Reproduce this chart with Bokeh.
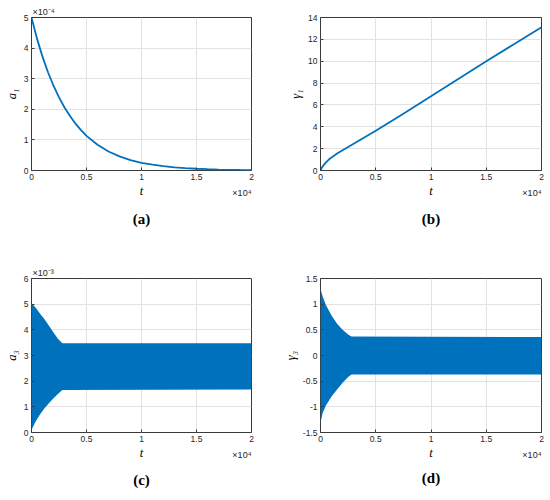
from bokeh.plotting import figure
from bokeh.layouts import row, column
from bokeh.models import Range1d, FixedTicker, Title
from bokeh.embed import file_html
from bokeh.resources import INLINE

# ---------------- data ----------------
t_ticks = [0, 5000, 10000, 15000, 20000]
t_tick_labels = {0: "0", 5000: "0.5", 10000: "1", 15000: "1.5", 20000: "2"}

# (a) a1, in units of 1e-4
t_a1 = [0, 500, 1000, 1500, 2000, 2500, 3000, 3500, 4000, 4500, 5000, 6000, 7000,
        8000, 9000, 10000, 11000, 12000, 13000, 14000, 15000, 16000, 17000, 18000,
        19000, 20000]
a1 = [5.00, 4.31, 3.72, 3.21, 2.77, 2.39, 2.06, 1.78, 1.53, 1.32, 1.13, 0.84, 0.62,
      0.46, 0.34, 0.25, 0.19, 0.14, 0.10, 0.077, 0.057, 0.042, 0.031, 0.023, 0.017,
      0.013]

# (b) gamma1
t_g1 = [0, 100, 250, 500, 750, 1000, 1500, 2000, 2500, 3000, 4000, 5000, 7500,
        10000, 12500, 15000, 17500, 20000]
g1 = [0, 0.22, 0.45, 0.75, 1.0, 1.2, 1.55, 1.85, 2.15, 2.45, 3.05, 3.63, 5.2,
      6.8, 8.4, 10.0, 11.55, 13.1]

# (c) a3 oscillation envelope, in units of 1e-3
t_a3 = [0, 400, 800, 1200, 1600, 2000, 2400, 2800, 20000]
a3_hi = [5.05, 4.85, 4.62, 4.40, 4.15, 3.90, 3.65, 3.48, 3.48]
a3_lo = [0.10, 0.45, 0.72, 0.95, 1.15, 1.33, 1.50, 1.66, 1.68]

# (d) gamma3 oscillation envelope
t_g3 = [0, 200, 500, 1000, 1500, 2000, 2500, 2800, 20000]
g3_hi = [1.30, 1.15, 0.98, 0.78, 0.62, 0.50, 0.41, 0.37, 0.36]
g3_lo = [-1.30, -1.12, -0.97, -0.80, -0.66, -0.53, -0.42, -0.37, -0.37]

BLUE = "#0072BD"
DARK = "#262626"


def make_panel(w, h, ylo, yhi, yticks, ylabel, caption, borders, cap_standoff,
               yexp="", yoverrides=None):
    l, r, t, b = borders
    p = figure(width=w, height=h, x_range=Range1d(0, 20000),
               y_range=Range1d(ylo, yhi), output_backend="svg",
               toolbar_location=None, min_border_left=l, min_border_right=r,
               min_border_top=t, min_border_bottom=b)
    # y exponent as the (left aligned) title above the frame
    p.title.text = yexp
    p.title.align = "left"
    p.title.offset = 1
    p.title.text_font = "Liberation Sans"
    p.title.text_font_size = "9px"
    p.title.text_font_style = "normal"
    p.title.text_color = DARK
    p.title.standoff = 2
    p.xaxis.ticker = FixedTicker(ticks=t_ticks)
    p.xaxis.major_label_overrides = t_tick_labels
    p.yaxis.ticker = FixedTicker(ticks=yticks)
    if yoverrides:
        p.yaxis.major_label_overrides = yoverrides
    p.grid.grid_line_color = "#e2e2e2"
    p.grid.grid_line_width = 1
    p.outline_line_color = "#3a3a3a"
    p.outline_line_width = 1
    p.axis.axis_line_color = None
    p.axis.major_tick_in = 3
    p.axis.major_tick_out = 0
    p.axis.minor_tick_line_color = None
    p.axis.major_tick_line_color = "#3a3a3a"
    p.axis.major_label_text_font = "Liberation Sans"
    p.axis.major_label_text_font_size = "8.5px"
    p.axis.major_label_text_color = DARK
    p.axis.major_label_standoff = 3
    p.xaxis.axis_label = "t"
    p.yaxis.axis_label = ylabel
    p.axis.axis_label_text_font = "Liberation Serif"
    p.axis.axis_label_text_font_style = "italic"
    p.axis.axis_label_text_font_size = "12.5px"
    p.axis.axis_label_text_color = "#000000"
    p.xaxis.axis_label_standoff = 1
    p.yaxis.axis_label_standoff = 2
    # x exponent, right aligned, pulled up next to the axis label
    p.add_layout(Title(text="×10⁴", align="right", vertical_align="top",
                       text_font="Liberation Sans", text_font_size="9px",
                       text_font_style="normal", text_color=DARK, standoff=-25),
                 "below")
    p.add_layout(Title(text=caption, align="center", text_font="Liberation Serif",
                       text_font_size="15px", text_font_style="bold",
                       text_color="#000000", standoff=cap_standoff), "below")
    return p


pa = make_panel(275, 250, 0, 5, [0, 1, 2, 3, 4, 5], "a₁", "(a)",
                (31, 24, 15, 79), 17, yexp="×10⁻⁴")
pa.line(t_a1, a1, line_color=BLUE, line_width=1.8)

pb = make_panel(274, 250, 0, 14, [0, 2, 4, 6, 8, 10, 12, 14], "γ₁", "(b)",
                (45, 8, 17, 80), 17)
pb.line(t_g1, g1, line_color=BLUE, line_width=1.8)

pc = make_panel(275, 248, 0, 6, [0, 1, 2, 3, 4, 5, 6], "a₃", "(c)",
                (31, 24, 28, 66), 14, yexp="×10⁻³")
pc.varea(x=t_a3, y1=a3_lo, y2=a3_hi, fill_color=BLUE)

pd = make_panel(274, 248, -1.5, 1.5, [-1.5, -1, -0.5, 0, 0.5, 1, 1.5], "γ₃", "(d)",
                (45, 8, 25, 60), 10,
                yoverrides={-1.5: "-1.5", -1: "-1", -0.5: "-0.5", 0: "0",
                            0.5: "0.5", 1: "1", 1.5: "1.5"})
pd.varea(x=t_g3, y1=g3_lo, y2=g3_hi, fill_color=BLUE)

layout = column(row(pa, pb), row(pc, pd))
open("out.html", "w").write(file_html(layout, INLINE))
